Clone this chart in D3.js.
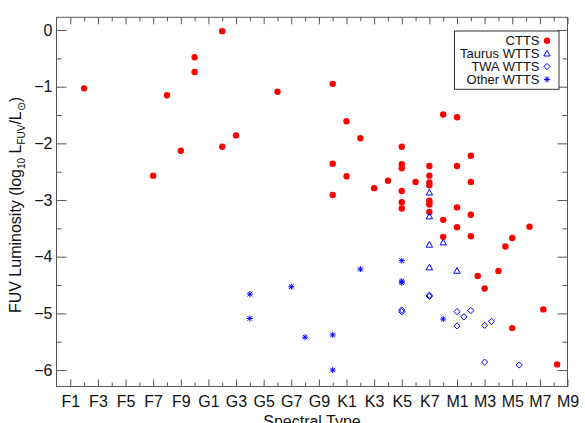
<!DOCTYPE html>
<html><head><meta charset="utf-8">
<script src="https://cdn.jsdelivr.net/npm/d3@7"></script>
<style>body{margin:0;background:#fff}svg{display:block}text{font-family:"Liberation Sans",Arial,Helvetica,sans-serif}</style>
</head><body><svg id="c" width="585" height="423"></svg>
<script>
// Spectral type index: F0=0 ... F9=9, G0=10 ... G9=19, K0=20 ... K7=27, M0=28 ... M9=37
const xTickValues = [1,3,5,7,9,11,13,15,17,19,21,23,25,27,29,31,33,35,37];
const xTickLabels = ["F1","F3","F5","F7","F9","G1","G3","G5","G7","G9","K1","K3","K5","K7","M1","M3","M5","M7","M9"];
const yTickValues = [0,-1,-2,-3,-4,-5,-6];

const cttsType = [2,7,8,9,10,10,12,12,13,16,20,20,20,21,21,22,23,24,25,25,25,25,25,25,26,27,27,27,27,27,27,27,27,28,28,28,29,29,29,29,30,30,30,30,30.5,31,32,32.5,33,33,34.25,35.25,36.25];
const cttsLum  = [-1.03,-2.57,-1.15,-2.13,-0.48,-0.74,-0.02,-2.06,-1.86,-1.09,-0.95,-2.36,-2.91,-1.61,-2.58,-1.91,-2.79,-2.66,-2.06,-2.37,-2.44,-2.84,-3.04,-3.15,-2.68,-2.40,-2.57,-2.69,-2.74,-3.01,-3.05,-3.08,-3.21,-1.49,-3.35,-3.65,-1.54,-2.40,-3.13,-3.48,-2.22,-2.68,-3.26,-3.64,-4.34,-4.56,-4.25,-3.82,-3.67,-5.26,-3.47,-4.93,-5.90];

const taurusType = [27,27,27,27,28,29];
const taurusLum  = [-2.87,-3.29,-3.79,-4.19,-3.75,-4.25];

const twaType = [25,25,27,27,29,29.5,30,29,31,31.5,31,33.5];
const twaLum  = [-4.94,-4.97,-4.68,-4.70,-4.97,-5.06,-4.95,-5.22,-5.21,-5.14,-5.86,-5.91];

const otherType = [14,14,17,18,20,20,22,25,25,25,28];
const otherLum  = [-4.66,-5.09,-4.53,-5.42,-5.38,-6.00,-4.22,-4.07,-4.43,-4.46,-5.10];

const legendLabels = ["CTTS","Taurus WTTS","TWA WTTS","Other WTTS"];

const svg = d3.select("#c");
const L = 56.5, R = 567.5, T = 17.3, B = 386.5;
const x = d3.scaleLinear().domain([0,37]).range([L,R]);
const y = d3.scaleLinear().domain([0.224,-6.29]).range([T,B]);
const axisCol = "#555";
const minorX = d3.range(2,37,2);
const minorY = d3.range(-0.5,-6.0,-1);

function styleAxis(g){
  g.select(".domain").remove();
  g.selectAll("line").attr("stroke",axisCol);
  g.selectAll("text").attr("fill","#111").style("font-size","16px").attr("font-family","Liberation Sans, Arial, sans-serif");
}
// bottom
svg.append("g").attr("transform",`translate(0,${B})`)
  .call(d3.axisBottom(x).tickValues(xTickValues).tickSize(-7).tickPadding(9).tickFormat((d,i)=>xTickLabels[i]))
  .call(styleAxis);
svg.append("g").attr("transform",`translate(0,${B})`)
  .call(d3.axisBottom(x).tickValues(minorX).tickSize(-4).tickFormat(""))
  .call(styleAxis);
// top
svg.append("g").attr("transform",`translate(0,${T})`)
  .call(d3.axisTop(x).tickValues(xTickValues).tickSize(-7).tickFormat(""))
  .call(styleAxis);
svg.append("g").attr("transform",`translate(0,${T})`)
  .call(d3.axisTop(x).tickValues(minorX).tickSize(-4).tickFormat(""))
  .call(styleAxis);
// left
svg.append("g").attr("transform",`translate(${L},0)`)
  .call(d3.axisLeft(y).tickValues(yTickValues).tickSize(-10).tickPadding(4).tickFormat(d3.format("d")))
  .call(styleAxis);
svg.append("g").attr("transform",`translate(${L},0)`)
  .call(d3.axisLeft(y).tickValues(minorY).tickSize(-5).tickFormat(""))
  .call(styleAxis);
// right
svg.append("g").attr("transform",`translate(${R},0)`)
  .call(d3.axisRight(y).tickValues(yTickValues).tickSize(-10).tickFormat(""))
  .call(styleAxis);
svg.append("g").attr("transform",`translate(${R},0)`)
  .call(d3.axisRight(y).tickValues(minorY).tickSize(-5).tickFormat(""))
  .call(styleAxis);
// frame
svg.append("rect").attr("x",L).attr("y",T).attr("width",R-L).attr("height",B-T)
  .attr("fill","none").attr("stroke",axisCol).attr("stroke-width",1);

// axis titles
svg.append("text").attr("x",(L+R)/2).attr("y",426.5).attr("text-anchor","middle")
  .style("font-size","16px").attr("fill","#111").text("Spectral Type");
const yt = svg.append("text").attr("transform","translate(21,205) rotate(-90)")
  .attr("text-anchor","middle").style("font-size","16px").attr("fill","#111");
yt.append("tspan").text("FUV Luminosity (log");
yt.append("tspan").attr("dy",4).style("font-size","10px").text("10");
yt.append("tspan").attr("dy",-4).text(" L");
yt.append("tspan").attr("dy",4).style("font-size","10px").text("FUV");
yt.append("tspan").attr("dy",-4).text("/L");
yt.append("tspan").attr("dy",4).style("font-size","11px").text("⊙");
yt.append("tspan").attr("dy",-4).text(")");

// marker builders
const blue = "#0000ff", red = "#ff0000";
function circle(g,cx,cy){ g.append("circle").attr("cx",cx).attr("cy",cy).attr("r",3.2).attr("fill",red); }
function tri(g,cx,cy){ g.append("path").attr("d",`M${cx},${cy-3.3}L${cx+3.2},${cy+2.4}L${cx-3.2},${cy+2.4}Z`).attr("fill","none").attr("stroke",blue).attr("stroke-width",1); }
function diam(g,cx,cy){ g.append("path").attr("d",`M${cx},${cy-3.1}L${cx+3.1},${cy}L${cx},${cy+3.1}L${cx-3.1},${cy}Z`).attr("fill","none").attr("stroke",blue).attr("stroke-width",1); }
function star(g,cx,cy){ const a=3,b=2.3; g.append("path").attr("d",`M${cx-a},${cy}L${cx+a},${cy}M${cx},${cy-a}L${cx},${cy+a}M${cx-b},${cy-b}L${cx+b},${cy+b}M${cx-b},${cy+b}L${cx+b},${cy-b}`).attr("fill","none").attr("stroke",blue).attr("stroke-width",1); }

const pts = svg.append("g");
cttsType.forEach((t,i)=>circle(pts,x(t),y(cttsLum[i])));
taurusType.forEach((t,i)=>tri(pts,x(t),y(taurusLum[i])));
twaType.forEach((t,i)=>diam(pts,x(t),y(twaLum[i])));
otherType.forEach((t,i)=>star(pts,x(t),y(otherLum[i])));

// legend
const lg = svg.append("g");
lg.append("rect").attr("x",454.5).attr("y",31).attr("width",104.5).attr("height",58.3)
  .attr("fill","#fff").attr("stroke","#333").attr("stroke-width",1);
const markers = [circle,tri,diam,star];
legendLabels.forEach((lab,i)=>{
  const by = 45.3 + i*12.9;
  lg.append("text").attr("x",539.5).attr("y",by).attr("text-anchor","end")
    .style("font-size","13px").attr("fill","#111").text(lab);
  markers[i](lg,547,by-4.6);
});
</script></body></html>
